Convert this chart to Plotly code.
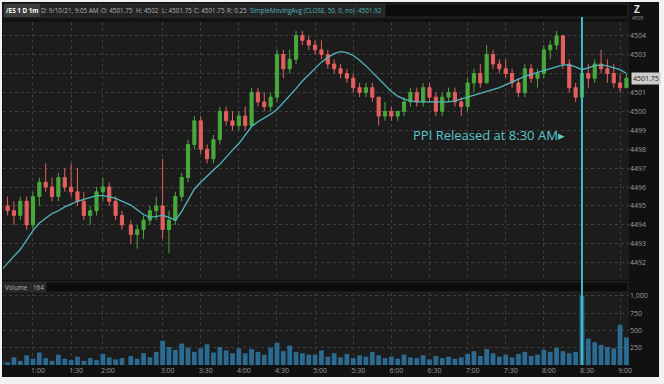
import plotly.graph_objects as go
from plotly.subplots import make_subplots

W, H = 664, 384
ML, MR, MT, MB = 3, 35, 22, 19
DAY = "2021-09-10"

times = ["00:35", "00:40", "00:45", "00:50", "00:55", "01:00", "01:05", "01:10", "01:15", "01:20",
         "01:25", "01:30", "01:35", "01:45", "01:50", "01:55", "02:00", "02:05", "02:10", "02:15",
         "02:35", "02:40", "02:45", "02:50", "02:55", "03:00", "03:05", "03:10", "03:15", "03:20",
         "03:25", "03:30", "03:35", "03:40", "03:45", "03:50", "03:55", "04:00", "04:05", "04:10",
         "04:15", "04:20", "04:25", "04:30", "04:35", "04:40", "04:45", "04:50", "04:55", "05:00",
         "05:05", "05:10", "05:15", "05:20", "05:25", "05:30", "05:35", "05:40", "05:45", "05:50",
         "05:55", "06:00", "06:05", "06:10", "06:15", "06:20", "06:25", "06:30", "06:35", "06:40",
         "06:45", "06:50", "06:55", "07:00", "07:05", "07:10", "07:15", "07:20", "07:25", "07:30",
         "07:35", "07:40", "07:45", "07:50", "07:55", "08:00", "08:05", "08:10", "08:15", "08:20",
         "08:25", "08:30", "08:35", "08:40", "08:45", "08:50", "08:55", "09:00", "09:05"]

opens = [4494.75, 4495.0, 4494.75, 4494.5, 4495.25, 4494.0, 4495.5, 4496.25, 4496.0, 4495.5,
         4496.5, 4496.0, 4495.75, 4495.25, 4494.5, 4494.75, 4495.75, 4496.0, 4495.25, 4494.5,
         4494.0, 4493.5, 4493.75, 4494.25, 4494.75, 4495.0, 4493.75, 4494.25, 4495.5, 4496.5,
         4498.25, 4499.5, 4498.0, 4497.5, 4498.5, 4500.0, 4499.5, 4499.25, 4499.75, 4499.25,
         4501.0, 4500.5, 4500.25, 4500.75, 4503.0, 4502.25, 4502.75, 4504.0, 4503.75, 4503.5,
         4503.25, 4503.0, 4502.5, 4502.25, 4502.0, 4501.75, 4501.25, 4501.0, 4501.25, 4500.75,
         4499.75, 4500.0, 4499.75, 4500.0, 4500.5, 4501.0, 4500.5, 4501.25, 4500.75, 4500.0,
         4500.75, 4501.0, 4500.5, 4500.25, 4501.5, 4502.0, 4501.5, 4503.0, 4502.5, 4502.25,
         4502.0, 4501.5, 4501.0, 4502.25, 4501.75, 4502.0, 4503.25, 4503.5, 4504.0, 4502.5,
         4501.25, 4500.75, 4502.0, 4501.75, 4502.5, 4502.25, 4502.0, 4501.5, 4501.25]
highs = [4495.25, 4495.5, 4495.25, 4495.5, 4495.5, 4495.75, 4496.5, 4497.25, 4496.5, 4496.75,
         4497.0, 4497.25, 4497.0, 4495.75, 4495.0, 4496.0, 4496.5, 4496.25, 4495.5, 4494.75,
         4494.25, 4494.0, 4494.5, 4495.0, 4495.5, 4497.5, 4494.75, 4495.75, 4496.75, 4498.5,
         4499.75, 4499.75, 4498.25, 4498.75, 4500.25, 4500.25, 4500.0, 4500.0, 4500.25, 4501.25,
         4501.25, 4501.0, 4501.0, 4503.25, 4503.25, 4503.25, 4504.25, 4504.25, 4504.0, 4503.75,
         4503.75, 4503.25, 4502.75, 4502.5, 4502.25, 4502.0, 4501.5, 4501.5, 4501.5, 4500.75,
         4500.5, 4500.25, 4500.0, 4500.75, 4501.25, 4501.25, 4501.5, 4501.5, 4501.0, 4501.0,
         4501.25, 4501.25, 4500.75, 4501.75, 4502.25, 4502.5, 4503.5, 4503.25, 4502.75, 4502.75,
         4502.25, 4501.75, 4502.5, 4502.5, 4502.25, 4503.5, 4503.75, 4504.25, 4504.0, 4502.75,
         4501.5, 4502.25, 4502.5, 4502.75, 4503.25, 4502.75, 4502.5, 4502.0, 4502.0]
lows = [4494.25, 4494.5, 4494.0, 4494.25, 4493.75, 4493.75, 4495.0, 4495.75, 4495.25, 4495.25,
        4495.75, 4495.5, 4495.0, 4494.25, 4494.0, 4494.5, 4495.25, 4495.0, 4494.25, 4493.75,
        4493.0, 4492.75, 4493.25, 4494.0, 4494.25, 4493.25, 4492.5, 4494.0, 4495.25, 4496.25,
        4498.0, 4497.75, 4497.25, 4497.25, 4498.25, 4499.25, 4499.0, 4499.0, 4499.0, 4499.25,
        4500.25, 4500.0, 4500.0, 4500.5, 4501.75, 4502.0, 4502.5, 4503.5, 4503.25, 4503.0,
        4502.75, 4502.25, 4502.0, 4501.75, 4501.5, 4501.0, 4500.75, 4500.75, 4500.5, 4499.25,
        4499.5, 4499.5, 4499.5, 4499.75, 4500.25, 4500.25, 4500.25, 4500.5, 4499.75, 4499.75,
        4500.5, 4500.25, 4499.75, 4500.0, 4501.0, 4501.25, 4501.5, 4502.25, 4502.0, 4501.75,
        4501.25, 4500.75, 4500.75, 4501.5, 4501.25, 4501.75, 4502.75, 4503.25, 4502.25, 4501.0,
        4500.5, 4500.5, 4501.25, 4501.5, 4502.0, 4501.5, 4501.25, 4501.0, 4501.25]
closes = [4495.0, 4494.75, 4494.5, 4495.25, 4494.0, 4495.5, 4496.25, 4496.0, 4495.5, 4496.5,
          4496.0, 4495.75, 4495.25, 4494.5, 4494.75, 4495.75, 4496.0, 4495.25, 4494.5, 4494.0,
          4493.5, 4493.75, 4494.25, 4494.75, 4495.0, 4493.75, 4494.25, 4495.5, 4496.5, 4498.25,
          4499.5, 4498.0, 4497.5, 4498.5, 4500.0, 4499.5, 4499.25, 4499.75, 4499.25, 4501.0,
          4500.5, 4500.25, 4500.75, 4503.0, 4502.25, 4502.75, 4504.0, 4503.75, 4503.5, 4503.25,
          4503.0, 4502.5, 4502.25, 4502.0, 4501.75, 4501.25, 4501.0, 4501.25, 4500.75, 4499.75,
          4500.0, 4499.75, 4500.0, 4500.5, 4501.0, 4500.5, 4501.25, 4500.75, 4500.0, 4500.75,
          4501.0, 4500.5, 4500.25, 4501.5, 4502.0, 4501.5, 4503.0, 4502.5, 4502.25, 4502.0,
          4501.5, 4501.0, 4502.25, 4501.75, 4502.0, 4503.25, 4503.5, 4504.0, 4502.5, 4501.25,
          4500.75, 4502.0, 4501.75, 4502.5, 4502.25, 4502.0, 4501.5, 4501.25, 4501.75]
sma50 = [4491.6, 4492.0, 4492.35, 4492.7, 4493.2, 4493.7, 4494.1, 4494.35, 4494.6, 4494.75,
         4494.95, 4495.1, 4495.25, 4495.35, 4495.45, 4495.55, 4495.55, 4495.5, 4495.4, 4495.25,
         4495.05, 4494.8, 4494.55, 4494.4, 4494.45, 4494.5, 4494.4, 4494.25, 4494.7, 4495.3,
         4495.9, 4496.25, 4496.6, 4496.9, 4497.2, 4497.6, 4497.95, 4498.3, 4498.75, 4499.2,
         4499.45, 4499.65, 4499.85, 4500.1, 4500.45, 4500.8, 4501.2, 4501.6, 4501.95, 4502.3,
         4502.6, 4502.85, 4503.05, 4503.15, 4503.1, 4502.95, 4502.7, 4502.4, 4502.05, 4501.7,
         4501.35, 4501.05, 4500.8, 4500.65, 4500.55, 4500.5, 4500.5, 4500.5, 4500.5, 4500.5,
         4500.5, 4500.55, 4500.65, 4500.75, 4500.85, 4500.95, 4501.05, 4501.15, 4501.25, 4501.4,
         4501.55, 4501.7, 4501.85, 4501.95, 4502.05, 4502.15, 4502.25, 4502.35, 4502.45, 4502.45,
         4502.35, 4502.2, 4502.3, 4502.4, 4502.45, 4502.4, 4502.3, 4502.2, 4502.0]
volume = [70, 40, 110, 60, 140, 90, 180, 100, 60, 150, 90, 70, 120,
          60, 100, 70, 160, 110, 80, 100,
          130, 90, 170, 110, 190,
          350, 260, 220, 310, 250, 190, 240, 300, 180, 260, 210, 170,
          240, 170, 230, 190, 150, 250, 320, 200, 280, 190, 170, 150,
          150, 210, 120, 170, 110, 160, 100, 140, 120, 190, 140, 100,
          120, 90, 150, 110, 100, 140, 80, 130, 100, 120, 90, 110,
          160, 200, 130, 230, 170, 120, 150, 110, 160, 190, 130, 150,
          220, 190, 250, 200, 170, 190, 1000, 380, 330, 290, 260, 240,
          580, 400]

price_ticks = [4492, 4493, 4494, 4495, 4496, 4497, 4498, 4499, 4500, 4501, 4502, 4503, 4504]
price_tick_text = ["4492", "4493", "4494", "4495", "4496", "4497", "4498", "4499", "4500", "4501",
                   "", "4503", "4504"]
vol_ticks = [250, 500, 750, 1000]
vol_tick_text = ["250", "500", "750", "1,000"]
time_ticks = ["01:00", "01:30", "02:00", "03:00", "03:30", "04:00", "04:30", "05:00", "05:30",
              "06:00", "06:30", "07:00", "07:30", "08:00", "08:30", "09:00"]
time_tick_text = ["1:00", "1:30", "2:00", "3:00", "3:30", "4:00", "4:30", "5:00", "5:30",
                  "6:00", "6:30", "7:00", "7:30", "8:00", "8:30", "9:00"]
header_items = ["/ES 1 D 1m", "D: 9/10/21, 9:05 AM", "O: 4501.75", "H: 4502", "L: 4501.75",
                "C: 4501.75", "R: 0.25", "SimpleMovingAvg (CLOSE, 50, 0, no)", "4501.92"]
last_price = 4501.75
event_time = "08:30"
event_text = "PPI Released at 8:30 AM\u25B8"

GREEN = "#49a83c"
RED = "#e4605e"
TEAL = "#52b7bd"
CYAN = "#3fbcc4"
GRID = "#3d3d3d"
TXT = "#9c9c9c"

x = [f"{DAY} {t}" for t in times]


def px(v):
    return (v - ML) / (W - ML - MR)


def py(v):
    return (H - MB - v) / (H - MT - MB)


fig = make_subplots(rows=2, cols=1, shared_xaxes=True, vertical_spacing=0.03)

fig.add_trace(go.Candlestick(
    x=x, open=opens, high=highs, low=lows, close=closes,
    increasing=dict(line=dict(color=GREEN, width=1), fillcolor=GREEN),
    decreasing=dict(line=dict(color=RED, width=1), fillcolor=RED),
    whiskerwidth=0, showlegend=False, hoverinfo="skip"), row=1, col=1)
fig.add_trace(go.Scatter(x=x, y=sma50, mode="lines", line=dict(color=TEAL, width=1.3),
                         showlegend=False, hoverinfo="skip"), row=1, col=1)
fig.add_trace(go.Bar(x=x, y=volume, marker=dict(color="#2b6a91", line=dict(width=0)),
                     showlegend=False, hoverinfo="skip"), row=2, col=1)

breaks = [dict(bounds=[f"{DAY} 01:37:30", f"{DAY} 01:42:30"]),
          dict(bounds=[f"{DAY} 02:18:00", f"{DAY} 02:31:00"])]
xcommon = dict(type="date", range=[f"{DAY} 00:36:24", f"{DAY} 09:07:00"], rangebreaks=breaks,
               showgrid=True, gridcolor=GRID, griddash="dot", gridwidth=1,
               tickvals=[f"{DAY} {t}" for t in time_ticks], ticktext=time_tick_text,
               zeroline=False, showline=False, ticks="",
               tickfont=dict(family="Open Sans", size=7, color=TXT),
               rangeslider=dict(visible=False))
fig.update_xaxes(**xcommon)
fig.update_xaxes(showticklabels=False, row=1, col=1)
fig.update_xaxes(showticklabels=True, ticklabelshift=5, row=2, col=1)

fig.update_layout(
    width=W, height=H, margin=dict(l=ML, r=MR, t=MT, b=MB),
    paper_bgcolor="#111111", plot_bgcolor="#1c1c1c",
    bargap=0.25, showlegend=False,
    yaxis=dict(domain=[py(280), 1], range=[4491.09, 4504.72], side="right",
               tickvals=price_ticks, ticktext=price_tick_text,
               showgrid=True, gridcolor=GRID, griddash="dot", zeroline=False, ticks="",
               tickfont=dict(family="Open Sans", size=7, color=TXT)),
    yaxis2=dict(domain=[0, py(293)], range=[0, 1040], side="right",
                tickvals=vol_ticks, ticktext=vol_tick_text,
                showgrid=True, gridcolor=GRID, griddash="dot", zeroline=False, ticks="",
                tickfont=dict(family="Open Sans", size=7, color=TXT)),
)

shapes = []
annotations = []

# header strip
shapes.append(dict(type="rect", xref="paper", yref="paper", x0=px(2), x1=px(629), y0=py(19), y1=py(3),
                   fillcolor="#161616", line=dict(width=0), layer="above"))
bounds = [(4, 40), (41, 99), (100, 133), (134, 160), (161, 193), (194, 225), (226, 248), (249, 355), (356, 384)]
for i, (txt, (a, b)) in enumerate(zip(header_items, bounds)):
    bg = "#3c3c3c" if i == 0 else "#232323"
    col = "#ffffff" if i == 0 else (TEAL if i >= 7 else "#b5b5b5")
    shapes.append(dict(type="rect", xref="paper", yref="paper", x0=px(a), x1=px(b), y0=py(17), y1=py(4),
                       fillcolor=bg, line=dict(color="#3a3a3a", width=0.6), layer="above"))
    annotations.append(dict(xref="paper", yref="paper", x=px((a + b) / 2), y=py(10.5),
                            text=(f"<b>{txt}</b>" if i == 0 else txt),
                            showarrow=False, font=dict(family="Open Sans", size=6.3, color=col),
                            xanchor="center", yanchor="middle"))
shapes.append(dict(type="rect", xref="paper", yref="paper", x0=px(385), x1=px(628), y0=py(17), y1=py(4),
                   fillcolor="#0c0c0c", line=dict(color="#3a3a3a", width=0.6), layer="above"))

# volume header strip
shapes.append(dict(type="rect", xref="paper", yref="paper", x0=px(2), x1=px(629), y0=py(293), y1=py(281),
                   fillcolor="#161616", line=dict(width=0), layer="above"))
for txt, (a, b) in zip(["Volume", "164"], [(3, 30), (31, 45)]):
    shapes.append(dict(type="rect", xref="paper", yref="paper", x0=px(a), x1=px(b), y0=py(292), y1=py(282),
                       fillcolor="#262626", line=dict(color="#3a3a3a", width=0.6), layer="above"))
    annotations.append(dict(xref="paper", yref="paper", x=px((a + b) / 2), y=py(287), text=txt,
                            showarrow=False, font=dict(family="Open Sans", size=6.3, color="#b5b5b5"),
                            xanchor="center", yanchor="middle"))
shapes.append(dict(type="rect", xref="paper", yref="paper", x0=px(46), x1=px(628), y0=py(292), y1=py(282),
                   fillcolor="#0c0c0c", line=dict(color="#3a3a3a", width=0.6), layer="above"))

# event line
shapes.append(dict(type="line", xref="x", yref="paper", x0=f"{DAY} {event_time}", x1=f"{DAY} {event_time}",
                   y0=0, y1=py(17), line=dict(color=CYAN, width=2), layer="above"))

# white outer frame
for (a, b, c, d) in [(0, 664, 0, 2), (0, 664, 377, 384), (0, 2, 0, 384), (659, 664, 0, 384)]:
    shapes.append(dict(type="rect", xref="paper", yref="paper", x0=px(a), x1=px(b), y0=py(d), y1=py(c),
                       fillcolor="#f2f2f2", line=dict(width=0), layer="above"))

annotations.append(dict(xref="x", yref="y", x=f"{DAY} {event_time}", y=4498.75, text=event_text,
                        showarrow=False, xanchor="right", yanchor="middle", xshift=-15,
                        font=dict(family="Open Sans", size=13, color="#5cc6cf")))
annotations.append(dict(xref="paper", yref="y", x=1, y=last_price, text="4501.75", showarrow=False,
                        xanchor="left", yanchor="middle", xshift=2, bgcolor="#cdcdcd", borderpad=1,
                        font=dict(family="Open Sans", size=7, color="#222222")))
annotations.append(dict(xref="paper", yref="paper", x=px(637), y=py(9), text="<b>Z</b>", showarrow=False,
                        xanchor="center", yanchor="middle", font=dict(family="Open Sans", size=10, color="#dddddd")))
annotations.append(dict(xref="paper", yref="paper", x=px(638), y=py(18), text="4505", showarrow=False,
                        xanchor="center", yanchor="middle", font=dict(family="Open Sans", size=5, color=TXT)))

fig.update_layout(shapes=shapes, annotations=annotations)
fig.write_html("out.html", config={"displayModeBar": False},
               post_script="document.body.style.margin='0';document.body.style.overflow='hidden';")
